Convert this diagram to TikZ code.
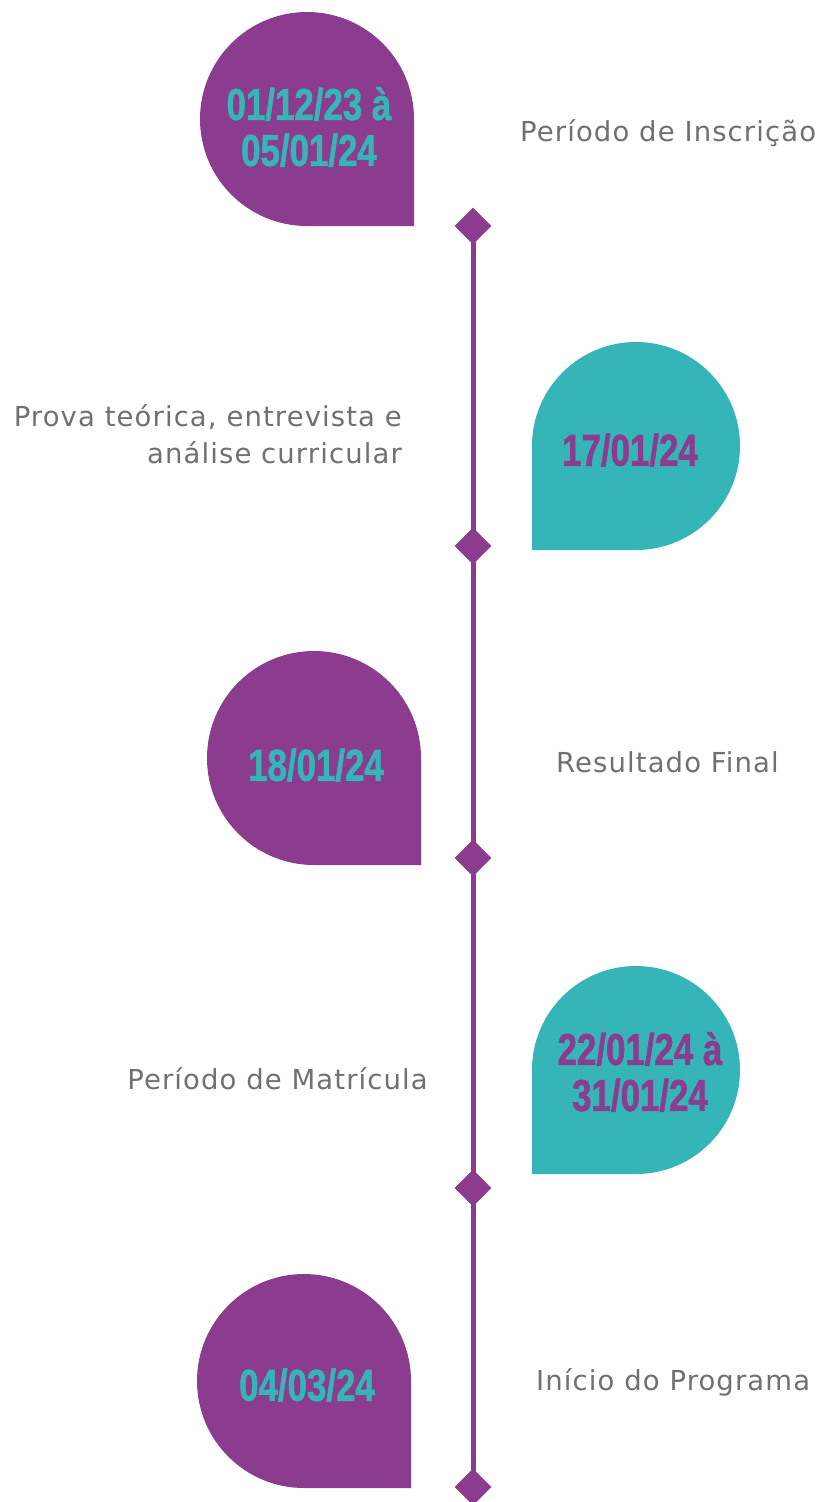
\documentclass[tikz,border=0pt]{standalone}
\usepackage{fontspec}
\usetikzlibrary{shapes.geometric,backgrounds}
\newfontfamily\labelfont[LetterSpace=4]{DejaVu Sans}
\newfontfamily\datefont[FakeStretch=0.78,FakeBold=1.2]{Liberation Sans}
\definecolor{tlpurple}{HTML}{8B3C8E}
\definecolor{tlteal}{HTML}{35B5B8}
\definecolor{tlgray}{HTML}{707070}
\begin{document}
\begin{tikzpicture}[x=1pt,y=-1pt,
  marker/.style={diamond, fill=tlpurple, minimum size=37pt, inner sep=0pt},
  timeline/.style={draw=tlpurple, line width=5pt},
  datetxt/.style={font=\datefont\bfseries\fontsize{44.7}{46}\selectfont, align=center, inner sep=0pt},
  lbl/.style={font=\labelfont\fontsize{27.5}{37}\selectfont, text=tlgray, inner sep=0pt},
  purpledrop/.style={fill=tlpurple},
  tealdrop/.style={fill=tlteal},
]
\useasboundingbox (0,0) rectangle (821,1502);
% timeline markers
\node[marker] (m1) at (473,226) {};
\node[marker] (m2) at (473,546) {};
\node[marker] (m3) at (473,858) {};
\node[marker] (m4) at (473,1188) {};
\node[marker] (m5) at (473,1487) {};
\begin{scope}[on background layer]
\draw[timeline] (m1.center) -- (m2.center) -- (m3.center) -- (m4.center) -- (m5.center);
\end{scope}
% drops
\fill[purpledrop] (414,119) -- (414,226) -- (307,226) arc[start angle=90,end angle=360,radius=107] -- cycle;
\fill[tealdrop] (532,446) -- (532,550) -- (636,550) arc[start angle=90,end angle=-180,radius=104] -- cycle;
\fill[purpledrop] (421,758) -- (421,865) -- (314,865) arc[start angle=90,end angle=360,radius=107] -- cycle;
\fill[tealdrop] (532,1070) -- (532,1174) -- (636,1174) arc[start angle=90,end angle=-180,radius=104] -- cycle;
\fill[purpledrop] (411,1381) -- (411,1488) -- (304,1488) arc[start angle=90,end angle=360,radius=107] -- cycle;
% dates
\node[datetxt, text=tlteal] (t1) at (309,127) {01/12/23 à\\05/01/24};
\node[datetxt, text=tlpurple] (t2) at (630,450) {17/01/24};
\node[datetxt, text=tlteal] (t3) at (316,765) {18/01/24};
\node[datetxt, text=tlpurple] (t4) at (640,1072) {22/01/24 à\\31/01/24};
\node[datetxt, text=tlteal] (t5) at (307,1385) {04/03/24};
% labels
\node[lbl, anchor=base west] (l1) at (520,141) {Período de Inscrição};
\node[lbl, anchor=east, align=right] (l2) at (402,434) {Prova teórica, entrevista e\\análise curricular};
\node[lbl, anchor=base west] (l3) at (556,772) {Resultado Final};
\node[lbl, anchor=base east] (l4) at (428,1089) {Período de Matrícula};
\node[lbl, anchor=base west] (l5) at (536,1390) {Início do Programa};
\end{tikzpicture}
\end{document}
